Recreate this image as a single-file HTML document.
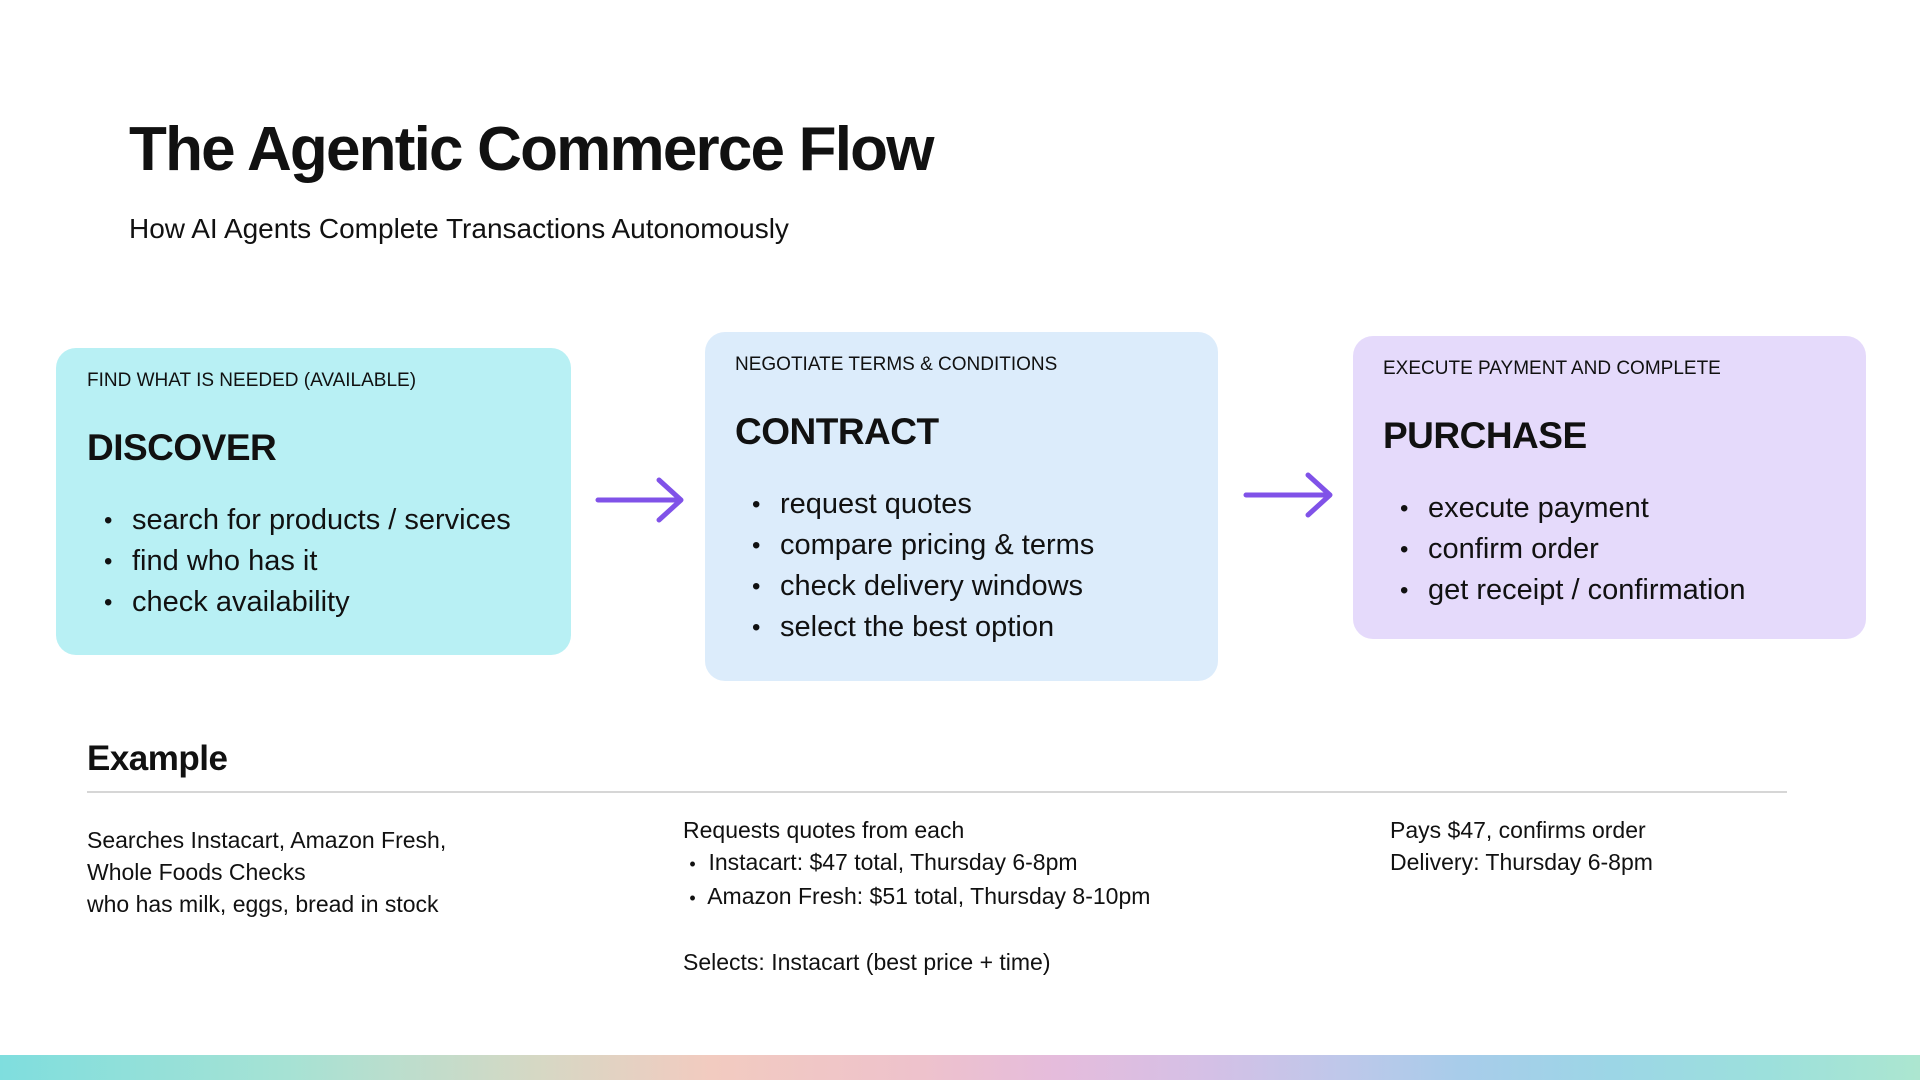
<!DOCTYPE html>
<html><head><meta charset="utf-8"><style>
*{margin:0;padding:0;box-sizing:border-box}
body{width:1920px;height:1080px;position:relative;background:#fff;font-family:"Liberation Sans",sans-serif;color:#111;overflow:hidden}
.a{position:absolute;white-space:nowrap}
.box{position:absolute;border-radius:20px}
.lbl{font-size:19px;line-height:24px;color:#111}
.h{font-size:37px;font-weight:bold;line-height:44px;letter-spacing:-0.5px}
.b{font-size:29px;line-height:41px}
.b span{display:inline-block;width:28px;font-size:24px;vertical-align:top}
.t{font-size:23px;line-height:32px;color:#111}
</style></head><body>
<div class="a" style="left:129px;top:112px;font-size:62px;font-weight:bold;letter-spacing:-1.8px;line-height:76px">The Agentic Commerce Flow</div>
<div class="a" style="left:129px;top:211px;font-size:28px;line-height:36px">How AI Agents Complete Transactions Autonomously</div>

<div class="box" style="left:56px;top:348px;width:515px;height:307px;background:#b8f0f4"></div>
<div class="box" style="left:705px;top:332px;width:513px;height:349px;background:#dcecfb"></div>
<div class="box" style="left:1353px;top:336px;width:513px;height:303px;background:#e5dafb"></div>

<div class="a lbl" style="left:87px;top:369px">FIND WHAT IS NEEDED (AVAILABLE)</div>
<div class="a h" style="left:87px;top:426px">DISCOVER</div>
<div class="a b" style="left:104px;top:500px"><span>•</span>search for products / services<br><span>•</span>find who has it<br><span>•</span>check availability</div>

<div class="a lbl" style="left:735px;top:353px">NEGOTIATE TERMS &amp; CONDITIONS</div>
<div class="a h" style="left:735px;top:410px">CONTRACT</div>
<div class="a b" style="left:752px;top:484px"><span>•</span>request quotes<br><span>•</span>compare pricing &amp; terms<br><span>•</span>check delivery windows<br><span>•</span>select the best option</div>

<div class="a lbl" style="left:1383px;top:357px">EXECUTE PAYMENT AND COMPLETE</div>
<div class="a h" style="left:1383px;top:414px">PURCHASE</div>
<div class="a b" style="left:1400px;top:488px"><span>•</span>execute payment<br><span>•</span>confirm order<br><span>•</span>get receipt / confirmation</div>

<svg class="a" style="left:0;top:0" width="1920" height="1080">
<g stroke="#8052e8" stroke-width="5" fill="none" stroke-linecap="round" stroke-linejoin="round">
<path d="M598 500 H680 M659 480 L681 500 L659 520"/>
<path d="M1246 495 H1329 M1308 475 L1330 495 L1308 515"/>
</g>
<line x1="87" y1="792" x2="1787" y2="792" stroke="#c8c8c8" stroke-width="1.5"/>
</svg>

<div class="a" style="left:87px;top:737px;font-size:35px;font-weight:bold;letter-spacing:-0.5px;line-height:44px">Example</div>
<div class="a t" style="left:87px;top:824px">Searches Instacart, Amazon Fresh,<br>Whole Foods Checks<br>who has milk, eggs, bread in stock</div>
<div class="a t" style="left:683px;top:814px">Requests quotes from each<br>&nbsp;<span style="font-size:18px">•</span>&nbsp; Instacart: $47 total, Thursday 6-8pm<br>&nbsp;<span style="font-size:18px">•</span>&nbsp; Amazon Fresh: $51 total, Thursday 8-10pm<br><br>Selects: Instacart (best price + time)</div>
<div class="a t" style="left:1390px;top:814px">Pays $47, confirms order<br>Delivery: Thursday 6-8pm</div>

<div class="a" style="left:0;top:1055px;width:1920px;height:25px;background:linear-gradient(90deg,#7fdede 0%,#a6e2d4 15%,#d6d8c4 28%,#f2cbc0 37%,#eec2cc 48%,#e5bcdc 55%,#d4c0e6 63%,#bec8ea 70%,#a8ccea 76%,#9cd6e6 84%,#9ce0dc 92%,#ace6d0 100%)"></div>
</body></html>
